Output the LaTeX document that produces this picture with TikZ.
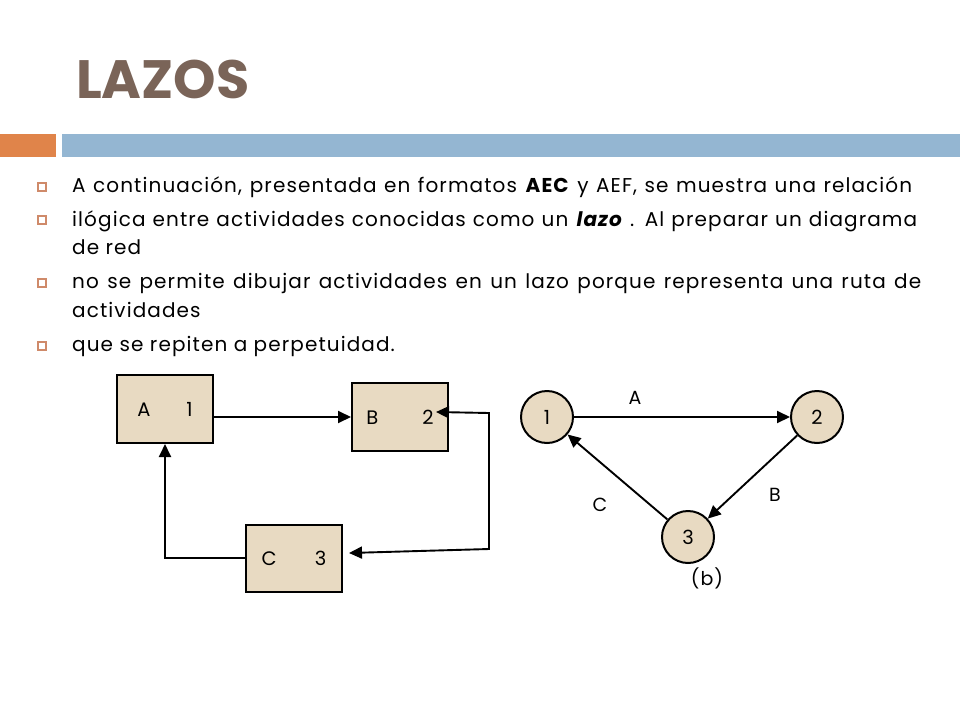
\documentclass[tikz,border=0pt]{standalone}
\usepackage{fontspec}
\setmainfont{Poppins}
\newfontfamily\bodyfont[LetterSpace=5.5]{Poppins}
\usetikzlibrary{arrows.meta,calc}
\definecolor{titlec}{HTML}{7A6458}
\definecolor{orangec}{HTML}{E0844A}
\definecolor{bluec}{HTML}{94B6D2}
\definecolor{boxc}{HTML}{E8DAC2}
\definecolor{bulc}{HTML}{CF8A6A}
\begin{document}
\begin{tikzpicture}[x=1pt,y=-1pt,
  txt/.style={inner sep=0pt, anchor=base west, font=\bodyfont\fontsize{20}{24}\selectfont},
  bul/.style={draw=bulc, line width=1.1pt, minimum size=8pt, inner sep=0pt},
  boxnode/.style={draw=black, line width=2pt, fill=boxc, minimum width=96pt, minimum height=68pt, inner sep=0pt, font=\bodyfont\fontsize{19.5}{22}\selectfont},
  circnode/.style={circle, draw=black, line width=2pt, fill=boxc, minimum size=52pt, inner sep=0pt, font=\bodyfont\fontsize{19.5}{22}\selectfont},
  lbl/.style={inner sep=0pt, font=\bodyfont\fontsize{19}{22}\selectfont},
  arr/.style={line width=1.9pt, -{Triangle[length=13pt,width=12pt]}},
  arrboth/.style={line width=1.9pt, {Triangle[length=13pt,width=12pt]}-{Triangle[length=13pt,width=12pt]}}
]
\fill[white] (0,0) rectangle (960,720);
\useasboundingbox (0,0) rectangle (960,720);
% title and bars
\node[inner sep=0pt, anchor=base west, text=titlec, font=\fontsize{54}{60}\selectfont\bfseries] (title) at (76,98) {LAZOS};
\fill[orangec] (0,134) rectangle (56,157);
\fill[bluec] (62,134) rectangle (960,157);
% bullets
\node[bul] (b1) at (42,187) {};
\node[bul] (b2) at (42,220) {};
\node[bul] (b3) at (42,283) {};
\node[bul] (b4) at (42,346) {};
% text
\node[txt] (t1) at (72,192) {\makebox[840pt][s]{A continuación, presentada en formatos \textbf{AEC} y AEF, se muestra una relación}};
\node[txt] (t2) at (72,226) {\makebox[845pt][s]{ilógica entre actividades conocidas como un \textbf{\textit{lazo}} . Al preparar un diagrama}};
\node[txt] (t2b) at (72,254) {de red};
\node[txt] (t3) at (72,288) {\makebox[849pt][s]{no se permite dibujar actividades en un lazo porque representa una ruta de}};
\node[txt] (t3b) at (72,317) {actividades};
\node[txt] (t4) at (72,351) {que se repiten a perpetuidad.};
% left diagram
\node[boxnode] (A) at (165,409) {A\hspace{36pt}1};
\node[boxnode] (B) at (400,417) {B\hspace{44pt}2};
\node[boxnode, minimum height=67pt] (C) at (294,558) {C\hspace{38pt}3};
\draw[arr] (A.east |- B.west) -- (B.west);
\draw[arrboth] ($(B.east)+(-13,-5)$) -- ($(B.east)+(40,-4)$) -- ++(0,136) -- ($(C.east)+(6,-5)$);
\draw[arr] (C.west) -| (A.south);
% right diagram
\node[circnode] (c1) at (547,417) {1};
\node[circnode] (c2) at (817,417) {2};
\node[circnode] (c3) at (688,537) {3};
\draw[arr] (c1) -- (c2);
\draw[arr] (c2) -- (c3);
\draw[arr] (c3) -- (c1);
\node[lbl] (la) at (635,398) {A};
\node[lbl] (lb) at (775,495) {B};
\node[lbl] (lc) at (600,505) {C};
\node[lbl] (lbb) at (707,578) {(b)};
\end{tikzpicture}
\end{document}
